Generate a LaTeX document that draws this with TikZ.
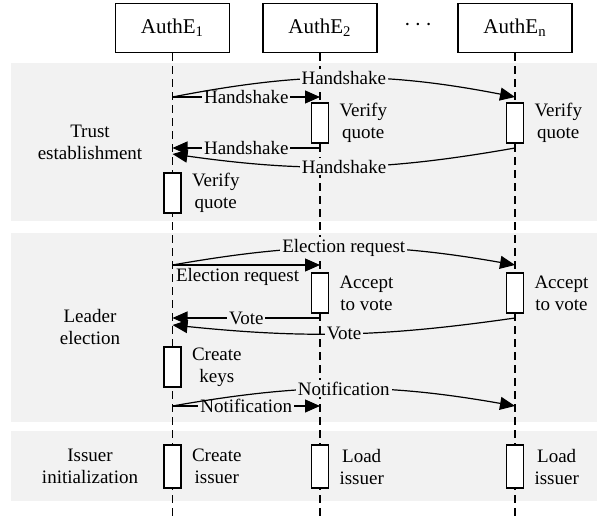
\documentclass[tikz,border=0pt]{standalone}
\usepackage{fontspec}
\setmainfont{Liberation Serif}
\usetikzlibrary{arrows.meta,positioning}

\definecolor{panelgray}{RGB}{242,242,242}
\tikzstyle{entity}=[draw,line width=0.6pt,minimum width=57pt,minimum height=24.5pt,inner sep=0pt,font=\fontsize{10.5}{12}\selectfont]
\tikzstyle{lifeline}=[draw,line width=0.6pt,dash pattern=on 4pt off 2.5pt]
\tikzstyle{act}=[draw,line width=0.6pt,fill=white,minimum width=8.5pt,minimum height=20pt,inner sep=0pt]
\tikzstyle{msg}=[draw,line width=0.6pt,-{Triangle[length=7.5pt,width=6.5pt]}]
\tikzstyle{msglabel}=[fill=panelgray,inner sep=1pt]
\tikzstyle{note}=[align=center,inner sep=1pt]
\tikzstyle{phase}=[align=center]

\begin{document}
\begin{tikzpicture}[x=0.5pt, y=-0.5pt, font=\fontsize{9.5}{11}\selectfont]
    \useasboundingbox (0,0) rectangle (597,517);
    % First the gray phase panels
    \fill[panelgray] (11,63) rectangle (597,221);
    \fill[panelgray] (11,233) rectangle (597,422);
    \fill[panelgray] (11,431) rectangle (597,501);
    \node[phase] (trust) at (90,142) {Trust\\establishment};
    \node[phase] (leader) at (90,327) {Leader\\election};
    \node[phase] (issuer) at (90,466) {Issuer\\initialization};

    % Entities and their lifelines
    \node[entity] (e1) at (172.5,28) {AuthE\textsubscript{1}};
    \node[entity] (e2) at (320,28) {AuthE\textsubscript{2}};
    \node[entity] (en) at (515,28) {AuthE\textsubscript{n}};
    \node[font=\large] (dots) at (418,25) {$\cdots$};
    \coordinate (bot) at (0,517);
    \foreach \e in {e1,e2,en}
        \path[lifeline] (\e.south) -- (\e.south |- bot);

    % Points on the lifelines where the messages start and end
    \foreach \n/\y in {hs/97, hr/148, hc/154, er/265, vo/318, vc/325, no/406}{
        \coordinate (e1\n) at (172.5,\y);
        \coordinate (e2\n) at (320,\y);
        \coordinate (en\n) at (515,\y);
    }

    % Trust establishment
    \path[msg] (e1hs) -- node[msglabel] {Handshake} (e2hs);
    \path[msg] (e1hs) to[bend left=11] node[msglabel] {Handshake} (enhs);
    \node[act] (v2) at (320,123) {};
    \node[act] (vn) at (515,123) {};
    \node[note, right=4pt of v2] (v2t) {Verify\\quote};
    \node[note, right=4pt of vn] (vnt) {Verify\\quote};
    \path[msg] (e2hr) -- node[msglabel] {Handshake} (e1hr);
    \path[msg] (enhr) to[bend left=9] node[msglabel] {Handshake} (e1hc);
    \node[act] (v1) at (172.5,193) {};
    \node[note, right=4pt of v1] (v1t) {Verify\\quote};

    % Leader election
    \path[msg] (e1er) to[bend left=10] node[msglabel] {Election request} (ener);
    \path[msg] (e1er) -- node[pos=0, anchor=north west, inner sep=1.5pt] {Election request} (e2er);
    \node[act] (a2) at (320,293) {};
    \node[act] (an) at (515,293) {};
    \node[note, right=4pt of a2] (a2t) {Accept\\to vote};
    \node[note, right=4pt of an] (ant) {Accept\\to vote};
    \path[msg] (e2vo) -- node[msglabel] {Vote} (e1vo);
    \path[msg] (envo) to[bend left=7] node[msglabel] {Vote} (e1vc);
    \node[act] (k1) at (172.5,367) {};
    \node[note, right=4pt of k1] (k1t) {Create\\keys};
    \path[msg] (e1no) -- node[msglabel] {Notification} (e2no);
    \path[msg] (e1no) to[bend left=10] node[msglabel] {Notification} (enno);

    % Issuer initialization
    \foreach \e/\x/\txt in {i1/172.5/{Create\\issuer}, i2/320/{Load\\issuer}, in/515/{Load\\issuer}}{
        \node[act, minimum height=21.5pt] (\e) at (\x,466.5) {};
        \node[note, right=4pt of \e] (\e t) {\txt};
    }
\end{tikzpicture}
\end{document}
